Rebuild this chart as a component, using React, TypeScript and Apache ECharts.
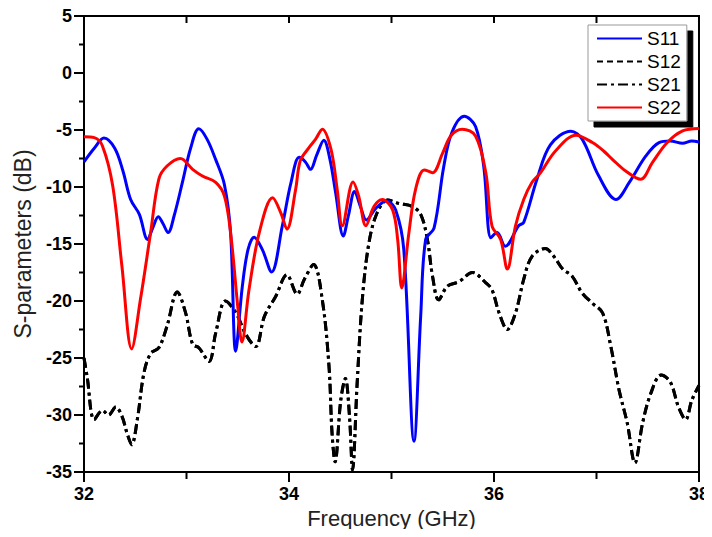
import React, { useEffect, useRef } from "react";
import * as echarts from "echarts";

const xRange = [32, 38];
const yRange = [-35, 5];
const seriesNames = ["S11", "S12", "S21", "S22"];
const xMajorTicks = [32, 34, 36, 38];
const xMinorTicks = [33, 35, 37];
const xTopTicks = [33, 34, 35, 36, 37];
const yMajorTicks = [5, 0, -5, -10, -15, -20, -25, -30, -35];
const yMinorTicks = [2.5, -2.5, -7.5, -12.5, -17.5, -22.5, -27.5, -32.5];

const s11: number[][] = [
  [32.0, -7.8], [32.1, -6.6], [32.195, -5.7], [32.3, -6.6], [32.38, -8.6], [32.455, -11.1], [32.54, -12.4],
  [32.62, -14.6], [32.67, -13.6], [32.725, -12.6], [32.77, -13.2], [32.82, -14.0], [32.88, -12.5],
  [32.96, -9.6], [33.04, -6.6], [33.12, -4.9], [33.2, -5.8], [33.285, -7.6], [33.37, -9.8],
  [33.43, -14.0], [33.48, -24.4], [33.545, -18.7], [33.6, -15.5], [33.66, -14.4], [33.74, -15.5],
  [33.83, -17.45], [33.935, -13.4], [34.02, -9.6], [34.1, -7.4], [34.16, -7.8], [34.21, -8.45],
  [34.27, -7.2], [34.34, -5.9], [34.4, -7.6], [34.455, -10.5], [34.53, -14.3], [34.58, -12.5],
  [34.64, -10.4], [34.7, -11.8], [34.755, -12.9], [34.845, -11.9], [34.95, -11.2], [35.04, -12.0],
  [35.12, -15.5], [35.22, -32.3], [35.285, -21.3], [35.333, -14.6], [35.415, -13.6], [35.51, -8.2],
  [35.59, -5.2], [35.71, -3.8], [35.82, -4.7], [35.9, -8.2], [35.97, -14.45], [36.03, -14.0],
  [36.11, -15.2], [36.24, -13.4], [36.29, -13.1], [36.42, -9.3], [36.55, -6.3], [36.75, -5.1],
  [36.86, -5.8], [37.02, -9.0], [37.19, -11.1], [37.32, -9.6], [37.48, -7.3], [37.61, -6.1],
  [37.72, -5.96], [37.84, -6.16], [37.93, -5.96], [38.0, -6.05],
];

const s22: number[][] = [
  [32.0, -5.6], [32.1, -5.67], [32.18, -6.4], [32.28, -9.9], [32.37, -16.95], [32.465, -24.2],
  [32.55, -19.9], [32.65, -14.0], [32.73, -9.3], [32.81, -8.16], [32.94, -7.5], [33.06, -8.45],
  [33.155, -9.04], [33.285, -9.6], [33.37, -10.8], [33.43, -14.0], [33.5, -20.5], [33.54, -23.6],
  [33.61, -19.0], [33.71, -14.0], [33.84, -10.95], [33.92, -12.26], [33.98, -13.7], [34.065, -10.2],
  [34.11, -7.7], [34.195, -6.55], [34.26, -5.8], [34.325, -4.93], [34.41, -6.7], [34.47, -10.2],
  [34.52, -13.4], [34.625, -9.56], [34.68, -10.8], [34.75, -13.4], [34.83, -11.7], [34.91, -11.1],
  [35.01, -12.0], [35.06, -14.6], [35.1, -18.85], [35.17, -14.0], [35.235, -10.2], [35.32, -8.5],
  [35.4, -8.74], [35.5, -7.0], [35.58, -5.5], [35.69, -4.93], [35.82, -5.52], [35.92, -8.74],
  [35.98, -13.4], [36.065, -14.6], [36.13, -17.2], [36.21, -13.4], [36.29, -11.1], [36.37, -9.6],
  [36.455, -8.74], [36.6, -6.84], [36.8, -5.46], [36.96, -6.1], [37.07, -6.84], [37.155, -7.57],
  [37.285, -8.6], [37.43, -9.33], [37.545, -7.86], [37.69, -6.1], [37.84, -5.08], [38.0, -4.87],
];

const s21: number[][] = [
  [32.0, -25.0], [32.03, -26.6], [32.1, -30.4], [32.18, -29.6], [32.24, -30.0], [32.31, -29.3],
  [32.37, -30.1], [32.42, -31.6], [32.465, -32.6], [32.52, -30.4], [32.585, -26.3], [32.65, -24.6],
  [32.73, -24.1], [32.81, -22.2], [32.91, -19.2], [32.99, -21.0], [33.06, -23.8], [33.12, -24.1],
  [33.22, -25.3], [33.285, -22.8], [33.38, -20.0], [33.48, -21.0], [33.58, -22.95], [33.675, -24.0],
  [33.76, -21.35], [33.87, -19.6], [33.98, -17.7], [34.08, -19.4], [34.15, -18.1], [34.24, -16.8],
  [34.325, -19.9], [34.39, -25.7], [34.42, -31.6], [34.45, -34.1], [34.505, -28.7], [34.55, -26.8],
  [34.59, -30.1], [34.62, -34.8], [34.665, -27.2], [34.715, -19.9], [34.78, -14.9], [34.86, -12.26],
  [34.96, -11.15], [35.07, -11.44], [35.2, -11.7], [35.285, -12.4], [35.35, -14.6], [35.4, -17.8],
  [35.46, -19.9], [35.545, -18.7], [35.66, -18.3], [35.79, -17.5], [35.92, -18.4], [35.98, -19.0],
  [36.05, -21.05], [36.13, -22.5], [36.21, -21.05], [36.29, -18.1], [36.37, -16.1], [36.5, -15.4],
  [36.585, -16.1], [36.67, -17.2], [36.76, -17.8], [36.86, -19.3], [36.96, -20.2], [37.06, -21.05],
  [37.14, -24.0], [37.22, -27.8], [37.3, -30.7], [37.375, -34.2], [37.45, -30.7], [37.53, -28.1],
  [37.63, -26.5], [37.72, -27.1], [37.8, -29.3], [37.87, -30.4], [37.93, -28.7], [38.0, -27.4],
];

// S12 (reciprocal) coincides with S21 in the reference
const s12: number[][] = s21;

// tick kinds: 0 bottom major, 1 bottom minor, 2 left major, 3 left minor, 4 top inward
const tickData: number[][] = [
  ...xMajorTicks.map((v) => [v, yRange[0], 0]),
  ...xMinorTicks.map((v) => [v, yRange[0], 1]),
  ...yMajorTicks.map((v) => [xRange[0], v, 2]),
  ...yMinorTicks.map((v) => [xRange[0], v, 3]),
  ...xTopTicks.map((v) => [v, yRange[1], 4]),
];

export default function App() {
  const ref = useRef<HTMLDivElement>(null);
  useEffect(() => {
    if (!ref.current) return;
    const chart = echarts.init(ref.current, undefined, { renderer: "svg" });
    const font = "'Liberation Sans', Arial, sans-serif";
    chart.setOption({
      animation: false,
      textStyle: { fontFamily: font },
      grid: {
        left: 84,
        right: 13,
        top: 16,
        bottom: 65,
        show: true,
        borderColor: "#000",
        borderWidth: 2,
        backgroundColor: "transparent",
      },
      legend: {
        orient: "vertical",
        left: 588,
        top: 25,
        padding: [4, 6, 4, 8],
        itemWidth: 45,
        itemHeight: 12,
        itemGap: 4,
        backgroundColor: "#fff",
        borderColor: "#999",
        borderWidth: 1,
        shadowColor: "#000",
        shadowBlur: 0,
        shadowOffsetX: 6,
        shadowOffsetY: 6,
        z: 10,
        itemStyle: { opacity: 0 },
        textStyle: { fontSize: 19, color: "#000", fontFamily: font },
        data: [
          { name: "S11", itemStyle: { opacity: 0 } },
          { name: "S12", itemStyle: { opacity: 0 }, lineStyle: { type: [6, 4] } },
          { name: "S21", itemStyle: { opacity: 0 } },
          { name: "S22", itemStyle: { opacity: 0 } },
        ],
      },
      xAxis: {
        type: "value",
        min: xRange[0],
        max: xRange[1],
        interval: 2,
        name: "Frequency (GHz)",
        nameLocation: "middle",
        nameGap: 32,
        nameTextStyle: { fontSize: 22, color: "#222", fontFamily: font },
        axisLine: { show: true, onZero: false, lineStyle: { color: "#000", width: 2 } },
        axisTick: { show: false },
        minorTick: { show: false },
        axisLabel: { color: "#000", fontSize: 18, fontWeight: "bold", margin: 13 },
        splitLine: { show: false },
      },
      yAxis: {
        type: "value",
        min: yRange[0],
        max: yRange[1],
        interval: 5,
        name: "S-parameters (dB)",
        nameLocation: "middle",
        nameGap: 50,
        nameTextStyle: { fontSize: 23, color: "#222", fontFamily: font },
        axisLine: { show: true, onZero: false, lineStyle: { color: "#000", width: 2 } },
        axisTick: { show: false },
        minorTick: { show: false },
        axisLabel: { color: "#000", fontSize: 18, fontWeight: "bold", margin: 12 },
        splitLine: { show: false },
      },
      series: [
        {
          name: "ticks",
          type: "custom",
          clip: false,
          silent: true,
          z: 5,
          data: tickData,
          renderItem: (params: any, api: any) => {
            const kind = api.value(2);
            const p = api.coord([api.value(0), api.value(1)]);
            let x1 = p[0], y1 = p[1], x2 = p[0], y2 = p[1];
            if (kind === 0) y2 = y1 + 10;
            else if (kind === 1) y2 = y1 + 7;
            else if (kind === 2) x2 = x1 - 10;
            else if (kind === 3) x2 = x1 - 5;
            else y2 = y1 + 7;
            return {
              type: "line",
              shape: { x1, y1, x2, y2 },
              style: { stroke: "#000", lineWidth: 2 },
            };
          },
        },
        {
          name: seriesNames[1],
          type: "line",
          data: s12,
          smooth: 0.35,
          showSymbol: false,
          symbol: "none",
          lineStyle: { color: "#000", width: 3, type: [10, 4, 3, 4] },
          itemStyle: { color: "#000" },
          z: 2,
        },
        {
          name: seriesNames[2],
          type: "line",
          data: s21,
          smooth: 0.35,
          showSymbol: false,
          symbol: "none",
          lineStyle: { color: "#000", width: 3, type: [10, 4, 3, 4] },
          itemStyle: { color: "#000" },
          z: 2,
        },
        {
          name: seriesNames[0],
          type: "line",
          data: s11,
          smooth: 0.35,
          showSymbol: false,
          symbol: "none",
          lineStyle: { color: "#0000ff", width: 3 },
          itemStyle: { color: "#0000ff" },
          z: 3,
        },
        {
          name: seriesNames[3],
          type: "line",
          data: s22,
          smooth: 0.35,
          showSymbol: false,
          symbol: "none",
          lineStyle: { color: "#ff0000", width: 3 },
          itemStyle: { color: "#ff0000" },
          z: 4,
        },
      ],
    });
    return () => chart.dispose();
  }, []);
  return <div ref={ref} style={{ width: 712, height: 537, margin: -8 }} />;
}
